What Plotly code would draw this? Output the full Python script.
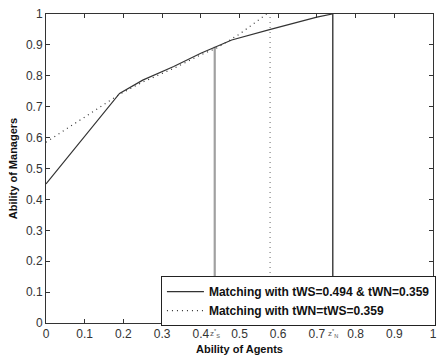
import plotly.graph_objects as go

# Matching curves: ability of agents (x) vs ability of managers (y)
agents_ws = [0, 0.19, 0.25, 0.33, 0.40, 0.44, 0.48, 0.58, 0.70, 0.74]
managers_ws = [0.45, 0.743, 0.786, 0.83, 0.873, 0.894, 0.916, 0.95, 0.99, 1.0]

agents_eq = [0, 0.19, 0.25, 0.33, 0.40, 0.44, 0.50, 0.57]
managers_eq = [0.585, 0.74, 0.78, 0.824, 0.868, 0.889, 0.935, 1.0]

# Thresholds
z_s = 0.436
z_n = 0.741
z_eq = 0.579

x_ticks = [0, 0.1, 0.2, 0.3, 0.4, 0.5, 0.6, 0.7, 0.8, 0.9, 1]
x_tick_text = ["0", "0.1", "0.2", "0.3", "0.4", "0.5", "0.6", "0.7", "0.8", "0.9", "1"]
y_ticks = [0, 0.1, 0.2, 0.3, 0.4, 0.5, 0.6, 0.7, 0.8, 0.9, 1]
y_tick_text = ["0", "0.1", "0.2", "0.3", "0.4", "0.5", "0.6", "0.7", "0.8", "0.9", "1"]

DOTS = "1px,4px"

fig = go.Figure()

# vertical cut-offs
fig.add_trace(go.Scatter(x=[z_s, z_s], y=[0, 0.894], mode="lines",
                         line=dict(color="#a0a0a0", width=2.2), showlegend=False))
fig.add_trace(go.Scatter(x=[z_n, z_n], y=[0, 1], mode="lines",
                         line=dict(color="#444444", width=1.5), showlegend=False))
fig.add_trace(go.Scatter(x=[z_eq, z_eq], y=[0, 1], mode="lines",
                         line=dict(color="#666666", width=1, dash=DOTS), showlegend=False))

fig.add_trace(go.Scatter(x=agents_ws, y=managers_ws, mode="lines",
                         line=dict(color="#333333", width=1.2),
                         name="Matching with tWS=0.494 & tWN=0.359"))
fig.add_trace(go.Scatter(x=agents_eq, y=managers_eq, mode="lines",
                         line=dict(color="#333333", width=1.2, dash=DOTS),
                         name="Matching with tWN=tWS=0.359"))

axis_common = dict(showline=True, linecolor="#333333", linewidth=1, mirror="ticks",
                   ticks="inside", ticklen=4, tickcolor="#333333", showgrid=False,
                   zeroline=False, automargin=False, ticklabeloverflow="allow",
                   tickfont=dict(family="Arial", size=12, color="#333333"))

fig.update_xaxes(range=[0, 1], tickvals=x_ticks, ticktext=x_tick_text,
                 title=dict(text="<b>Ability of Agents</b>", font=dict(family="Arial", size=11, color="#111111"),
                            standoff=4), **axis_common)
fig.update_yaxes(range=[0, 1], tickvals=y_ticks, ticktext=y_tick_text,
                 title=dict(text="<b>Ability of Managers</b>", font=dict(family="Arial", size=11, color="#111111"),
                            standoff=6), **axis_common)

for xv, sub in [(z_s, "S"), (z_n, "N")]:
    fig.add_annotation(x=xv, y=0, xref="x", yref="paper", yanchor="top", yshift=-3,
                       text="z<sup>*</sup><sub>" + sub + "</sub>", showarrow=False,
                       font=dict(family="Arial", size=8, color="#555555"))

fig.update_layout(
    width=438, height=356,
    margin=dict(l=46, r=2, t=14, b=33),
    plot_bgcolor="white", paper_bgcolor="white",
    legend=dict(x=0.297, y=0.152, xanchor="left", yanchor="top",
                bgcolor="white", bordercolor="#222222", borderwidth=1,
                font=dict(family="Arial", size=12, color="#111111", weight="bold"),
                tracegroupgap=0, itemwidth=37),
)

fig.write_html("out.html")
